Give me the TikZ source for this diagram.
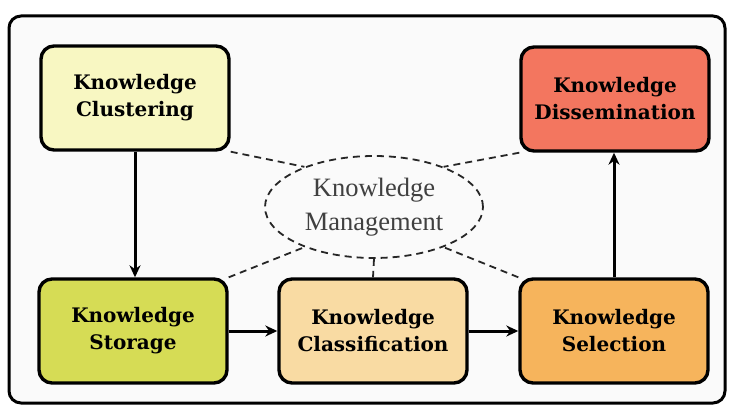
\documentclass[tikz,border=0pt]{standalone}
\usepackage{fontspec}
\setmainfont{DejaVu Serif}
\newfontfamily\ellfont{Liberation Serif}
\usetikzlibrary{shapes.geometric,arrows.meta}
\definecolor{cClust}{HTML}{F8F7C2}
\definecolor{cStor}{HTML}{D6DC55}
\definecolor{cClass}{HTML}{F9DBA3}
\definecolor{cSel}{HTML}{F6B45C}
\definecolor{cDiss}{HTML}{F3765F}
\tikzset{
  kbox/.style={draw=black, line width=3.4pt, rounded corners=13pt, minimum width=188pt, minimum height=104pt, align=center, font=\bfseries\fontsize{20}{27}\selectfont},
  flow/.style={line width=3pt, -{Stealth[length=12pt,width=11pt]}},
  link/.style={line width=1.8pt, dash pattern=on 7pt off 5pt, black!85},
}
\begin{document}
\begin{tikzpicture}[x=1pt,y=-1pt]
\useasboundingbox (0,0) rectangle (729,409);
\fill[white] (0,0) rectangle (729,409);
\draw[line width=3pt, rounded corners=12pt, fill=black!2] (9,16) rectangle (725,403);
\node[kbox, fill=cClust] (clu) at (135,98) {Knowledge\\Clustering};
\node[kbox, fill=cDiss] (dis) at (615,99) {Knowledge\\Dissemination};
\node[kbox, fill=cStor] (sto) at (133,331) {Knowledge\\Storage};
\node[kbox, fill=cClass] (cla) at (373,331) {Knowledge\\Classification};
\node[kbox, fill=cSel] (sel) at (614,331) {Knowledge\\Selection};
\node[draw=black!85, dash pattern=on 7pt off 5pt, line width=1.8pt, ellipse, minimum width=218pt, minimum height=102pt, inner sep=0pt, align=center, font=\ellfont\fontsize{26.5}{34}\selectfont, text=black!75] (km) at (374,207) {Knowledge\\Management};
\draw[link] (clu.south east) -- (km.150);
\draw[link] (dis.south west) -- (km.30);
\draw[link] (sto.north east) -- (km.210);
\draw[link] (sel.north west) -- (km.330);
\draw[link] (km.south) -- (cla.north);
\draw[flow] (clu.south) -- (clu.south |- sto.north);
\draw[flow] (sto.east) -- (cla.west);
\draw[flow] (cla.east) -- (sel.west);
\draw[flow] (sel.north) -- (sel.north |- dis.south);
\end{tikzpicture}
\end{document}
